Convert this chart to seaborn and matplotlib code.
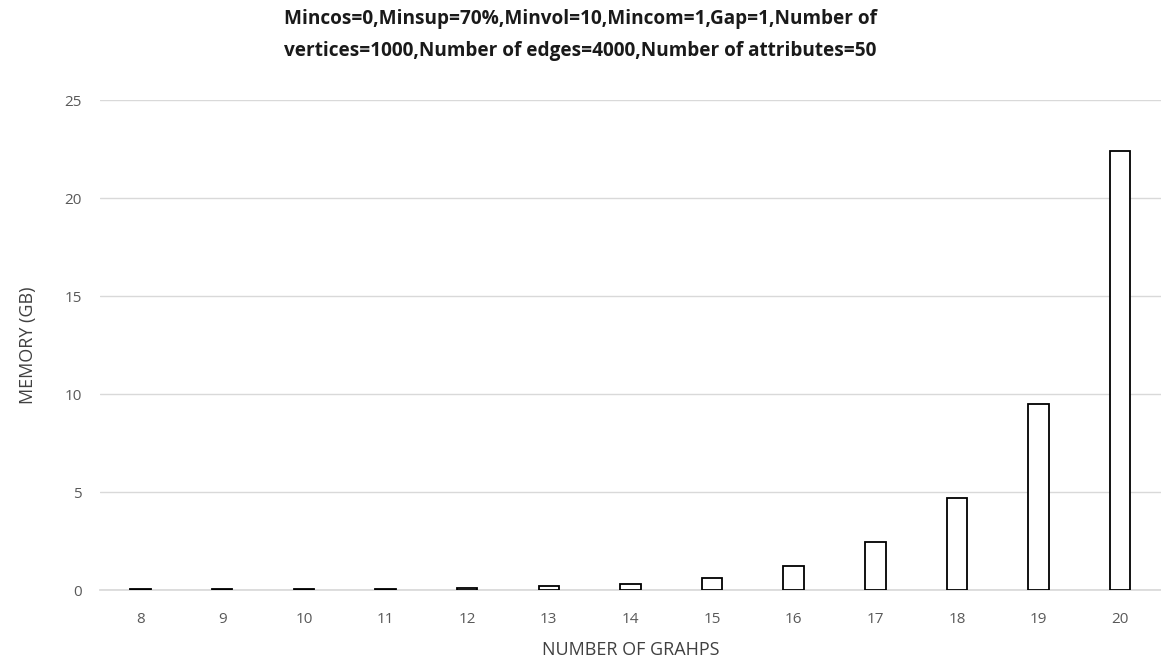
import matplotlib
matplotlib.use("Agg")
import matplotlib.pyplot as plt
import seaborn as sns
import pandas as pd

categories = ["8", "9", "10", "11", "12", "13", "14", "15", "16", "17", "18", "19", "20"]
memory_gb = [0.05, 0.05, 0.05, 0.05, 0.12, 0.23, 0.33, 0.61, 1.25, 2.45, 4.72, 9.5, 22.4]
y_ticks = [0, 5, 10, 15, 20, 25]

title = "Mincos=0,Minsup=70%,Minvol=10,Mincom=1,Gap=1,Number of\nvertices=1000,Number of edges=4000,Number of attributes=50"

sns.set_theme(style="white")
plt.rcParams['font.family'] = ['Open Sans', 'DejaVu Sans']

df = pd.DataFrame({"graphs": categories, "memory": memory_gb})

fig = plt.figure(figsize=(11.61, 6.63), dpi=100)
ax = fig.add_axes([0.086, 0.110, 0.914, 0.739])

sns.barplot(data=df, x="graphs", y="memory", ax=ax, width=0.25,
            color="white", edgecolor="black", linewidth=1.3, zorder=3)

ax.set_ylim(0, 25)
ax.set_xlim(-0.5, 12.5)
ax.set_yticks(y_ticks)
ax.yaxis.grid(True, color="#d9d9d9", linewidth=1)
ax.set_axisbelow(True)
for s in ["top", "right", "left"]:
    ax.spines[s].set_visible(False)
ax.spines["bottom"].set_color("#d9d9d9")
ax.tick_params(axis="x", length=0, labelsize=11, labelcolor="#595959", pad=16)
ax.tick_params(axis="y", length=0, labelsize=11, labelcolor="#595959", pad=13)

ax.set_xlabel("NUMBER OF GRAHPS", fontsize=13, color="#404040", labelpad=10)
ax.set_ylabel("MEMORY (GB)", fontsize=13, color="#404040", labelpad=20)

fig.suptitle(title, fontsize=13.7, fontweight="bold", color="#1a1a1a",
             y=0.986, linespacing=1.75)

fig.savefig("out.png", dpi=100)
